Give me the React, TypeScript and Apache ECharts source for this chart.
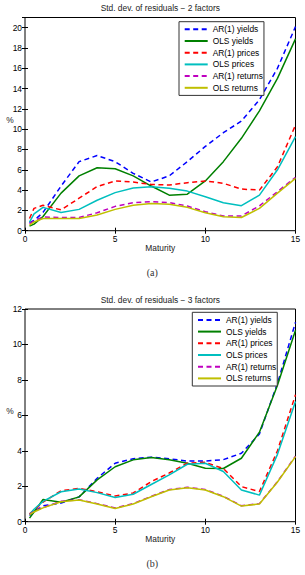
import React, { useEffect, useRef } from "react";
import * as echarts from "echarts";

// Maturities (years) at which the residual std. devs are evaluated
const maturities = [0.25, 0.5, 1, 2, 3, 4, 5, 6, 7, 8, 9, 10, 11, 12, 13, 14, 15];

// Two-factor model (%)
const ar1Yields2 = [0.8, 1.0, 1.8, 4.4, 6.8, 7.4, 6.8, 5.65, 4.8, 5.4, 6.8, 8.3, 9.65, 10.8, 12.9, 16.0, 20.1];
const olsYields2 = [0.45, 0.65, 1.4, 3.7, 5.4, 6.2, 6.1, 5.4, 4.4, 3.5, 3.6, 4.9, 6.8, 9.1, 11.8, 15.0, 18.9];
const ar1Prices2 = [1.2, 2.2, 2.5, 2.05, 3.2, 4.35, 4.9, 4.8, 4.55, 4.5, 4.73, 4.9, 4.67, 4.1, 4.0, 6.3, 10.4];
const olsPrices2 = [0.85, 1.65, 2.3, 1.8, 2.1, 3.0, 3.75, 4.2, 4.33, 4.18, 3.9, 3.35, 2.76, 2.46, 3.5, 6.0, 9.26];
const ar1Returns2 = [0.7, 1.0, 1.35, 1.3, 1.3, 1.77, 2.4, 2.75, 2.86, 2.77, 2.43, 1.87, 1.45, 1.45, 2.45, 3.85, 5.26];
const olsReturns2 = [0.55, 0.85, 1.2, 1.2, 1.2, 1.55, 2.1, 2.5, 2.68, 2.6, 2.3, 1.77, 1.38, 1.3, 2.2, 3.7, 5.16];

// Three-factor model (%)
const ar1Yields3 = [0.35, 0.55, 0.9, 1.05, 1.4, 2.45, 3.3, 3.55, 3.64, 3.55, 3.42, 3.42, 3.5, 3.86, 4.95, 7.8, 11.25];
const olsYields3 = [0.2, 0.55, 1.25, 1.1, 1.4, 2.36, 3.1, 3.49, 3.62, 3.5, 3.3, 3.02, 3.0, 3.58, 5.05, 7.7, 10.8];
const ar1Prices3 = [0.45, 0.65, 1.1, 1.75, 1.88, 1.69, 1.45, 1.62, 2.26, 2.75, 3.3, 3.35, 3.0, 1.98, 1.7, 4.0, 7.16];
const olsPrices3 = [0.4, 0.7, 1.15, 1.69, 1.85, 1.64, 1.36, 1.55, 2.1, 2.64, 3.24, 3.3, 2.83, 1.79, 1.5, 3.8, 6.78];
const ar1Returns3 = [0.42, 0.58, 0.8, 1.15, 1.24, 1.02, 0.78, 1.02, 1.43, 1.81, 1.94, 1.81, 1.43, 0.9, 1.02, 2.26, 3.7];
const olsReturns3 = [0.4, 0.55, 0.78, 1.13, 1.22, 1.0, 0.75, 1.0, 1.41, 1.79, 1.92, 1.79, 1.41, 0.88, 1.0, 2.24, 3.67];

const seriesNames = ["AR(1) yields", "OLS yields", "AR(1) prices", "OLS prices", "AR(1) returns", "OLS returns"];
const seriesColors = ["#0000ff", "#008000", "#ff0000", "#00bfbf", "#bf00bf", "#bfbf00"];
const seriesDashed = [true, false, true, false, true, false];

const panels = [
  {
    title: "Std. dev. of residuals \u2212 2 factors",
    caption: "(a)",
    yMax: 21,
    values: [ar1Yields2, olsYields2, ar1Prices2, olsPrices2, ar1Returns2, olsReturns2],
  },
  {
    title: "Std. dev. of residuals \u2212 3 factors",
    caption: "(b)",
    yMax: 12,
    values: [ar1Yields3, olsYields3, ar1Prices3, olsPrices3, ar1Returns3, olsReturns3],
  },
];

const FONT = "Liberation Sans, Arial, sans-serif";
const FS = 8.4;

// Plot-area geometry of each panel
const layout = [
  { left: 25, top: 17.5, width: 270.5, height: 213.2, legendLeft: 179, legendTop: 21.7 },
  { left: 25, top: 309, width: 270.5, height: 212.7, legendLeft: 192.3, legendTop: 312.3 },
];

export default function App() {
  const ref = useRef<HTMLDivElement>(null);

  useEffect(() => {
    if (!ref.current) return;
    const chart = echarts.init(ref.current, undefined, { renderer: "svg" });

    const grids: any[] = [];
    const xAxes: any[] = [];
    const yAxes: any[] = [];
    const legends: any[] = [];
    const series: any[] = [];
    const graphics: any[] = [];

    const tick = { show: true, inside: true, length: 3, lineStyle: { color: "#000", width: 1 } };

    panels.forEach((p, i) => {
      const g = layout[i];
      grids.push({
        left: g.left,
        top: g.top,
        width: g.width,
        height: g.height,
        show: true,
        borderColor: "#000",
        borderWidth: 1,
        backgroundColor: "transparent",
      });
      // bottom and top x axes (top one only carries ticks)
      xAxes.push({
        type: "value",
        gridIndex: i,
        min: 0,
        max: 15,
        interval: 5,
        position: "bottom",
        axisLine: { show: false },
        axisTick: tick,
        splitLine: { show: false },
        axisLabel: { color: "#000", fontFamily: FONT, fontSize: FS, margin: 4 },
      });
      xAxes.push({
        type: "value",
        gridIndex: i,
        min: 0,
        max: 15,
        interval: 5,
        position: "top",
        axisLine: { show: false },
        axisTick: tick,
        splitLine: { show: false },
        axisLabel: { show: false },
      });
      yAxes.push({
        type: "value",
        gridIndex: i,
        min: 0,
        max: p.yMax,
        interval: 2,
        position: "left",
        axisLine: { show: false },
        axisTick: tick,
        splitLine: { show: false },
        axisLabel: {
          color: "#000",
          fontFamily: FONT,
          fontSize: FS,
          margin: 3,
          showMaxLabel: p.yMax % 2 === 0,
        },
      });
      yAxes.push({
        type: "value",
        gridIndex: i,
        min: 0,
        max: p.yMax,
        interval: 2,
        position: "right",
        axisLine: { show: false },
        axisTick: tick,
        splitLine: { show: false },
        axisLabel: { show: false },
      });

      p.values.forEach((vals, k) => {
        series.push({
          type: "line",
          name: seriesNames[k],
          xAxisIndex: i * 2,
          yAxisIndex: i * 2,
          symbol: "none",
          smooth: false,
          data: maturities.map((m, j) => [m, vals[j]]),
          lineStyle: {
            color: seriesColors[k],
            width: 1.5,
            type: seriesDashed[k] ? [5, 3.5] : "solid",
          },
          itemStyle: { color: seriesColors[k] },
          z: 2 + k,
        });
      });

      legends.push({
        orient: "vertical",
        left: g.legendLeft,
        top: g.legendTop,
        data: seriesNames,
        itemWidth: 23,
        itemHeight: 10,
        itemGap: 1.7,
        padding: [2.6, 1, 2.6, 4.7],
        borderColor: "#333",
        borderWidth: 1,
        backgroundColor: "#fff",
        selectedMode: false,
        // line samples only, no marker
        itemStyle: { opacity: 0, borderWidth: 0 },
        textStyle: { color: "#000", fontFamily: FONT, fontSize: FS, lineHeight: 10 },
        z: 10,
      });

      const bottom = g.top + g.height;
      const cx = g.left + g.width / 2;
      graphics.push(
        {
          type: "text",
          x: cx,
          y: g.top - 9.5,
          style: { text: p.title, fontFamily: FONT, fontSize: FS, fill: "#222", textAlign: "center", textVerticalAlign: "middle" },
        },
        {
          type: "text",
          x: 10,
          y: g.top + g.height * 0.48,
          style: { text: "%", fontFamily: FONT, fontSize: FS, fill: "#222", textAlign: "center", textVerticalAlign: "middle" },
        },
        {
          type: "text",
          x: cx,
          y: bottom + 17.5,
          style: { text: "Maturity", fontFamily: FONT, fontSize: FS, fill: "#222", textAlign: "center", textVerticalAlign: "middle" },
        },
        {
          type: "text",
          x: cx - 8,
          y: bottom + 42,
          style: { text: p.caption, fontFamily: "Liberation Serif, DejaVu Serif, serif", fontSize: 10, fill: "#333", textAlign: "center", textVerticalAlign: "middle" },
        }
      );
    });

    chart.setOption({
      animation: false,
      backgroundColor: "#fff",
      grid: grids,
      xAxis: xAxes,
      yAxis: yAxes,
      legend: legends,
      series,
      graphic: graphics,
    });

    return () => chart.dispose();
  }, []);

  return (
    <div
      ref={ref}
      style={{ position: "fixed", left: 0, top: 0, width: 305, height: 575, background: "#fff" }}
    />
  );
}
